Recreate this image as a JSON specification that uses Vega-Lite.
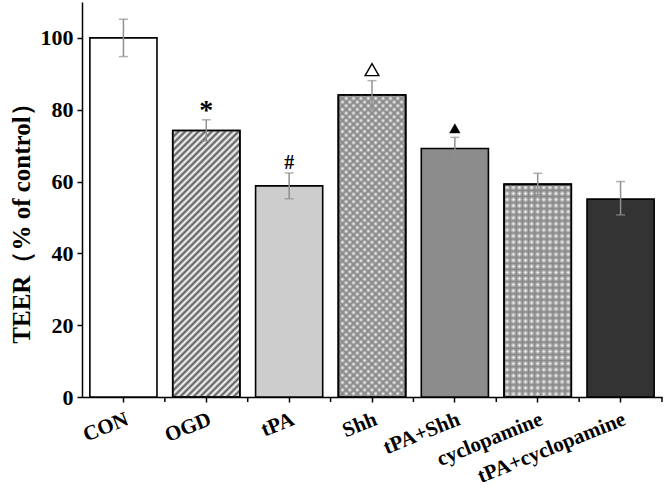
{
"$schema":"https://vega.github.io/schema/vega-lite/v6.json",
"width":580,"height":395,
"autosize":{"type":"none"},
"padding":{"left":82,"top":2,"right":2,"bottom":92},
"config":{"view":{"stroke":null},"font":"Liberation Serif"},
"data":{"values":[
{"group":"CON","value":100,"lower":94.8,"upper":105.2,"sig":""},
{"group":"OGD","value":74.2,"lower":71.3,"upper":77.2,"sig":"*"},
{"group":"tPA","value":58.8,"lower":55.2,"upper":62.4,"sig":"#"},
{"group":"Shh","value":84.1,"lower":80,"upper":88.1,"sig":"△"},
{"group":"tPA+Shh","value":69.2,"lower":66.4,"upper":72.3,"sig":"▲"},
{"group":"cyclopamine","value":59.2,"lower":56.3,"upper":62.3,"sig":""},
{"group":"tPA+cyclopamine","value":55.1,"lower":50.7,"upper":60,"sig":""}
]},
"encoding":{"x":{"field":"group","type":"nominal","sort":null,"scale":{"paddingInner":0,"paddingOuter":0},
"axis":{"title":null,"labelAngle":-22,"labelAlign":"right","labelBaseline":"top","labelFont":"Liberation Serif","labelFontWeight":"bold","labelFontSize":21,"labelColor":"black","labelPadding":6,"labelLimit":300,"domainColor":"black","domainWidth":1.5,"tickColor":"black","tickWidth":1.5,"tickSize":5}}},
"layer":[
{"mark":{"type":"bar","width":{"band":0.81},"stroke":"black","strokeWidth":1.6},
"encoding":{"y":{"field":"value","type":"quantitative","scale":{"domain":[0,110],"nice":false},
"axis":{"title":"TEER（% of control）","titleFont":"Liberation Serif","titleFontWeight":"bold","titleFontSize":25,"titleColor":"black","titlePadding":6,"titleY":215,"values":[0,10,20,30,40,50,60,70,80,90,100],"labelExpr":"datum.value % 20 === 0 ? datum.label : ''","labelFont":"Liberation Serif","labelFontSize":22,"labelFontWeight":"bold","labelColor":"black","labelPadding":4,"domainColor":"black","domainWidth":1.5,"tickColor":"black","tickWidth":1.5,"tickSize":{"condition":{"test":"datum.value % 20 === 0","value":5},"value":3},"grid":false}},
"fill":{"field":"group","type":"nominal","scale":{"domain":["CON","OGD","tPA","Shh","tPA+Shh","cyclopamine","tPA+cyclopamine"],"range":["#ffffff","#ffffff","#cdcdcd","#ffffff","#8c8c8c","#ffffff","#333333"]},"legend":null}}},
{"transform":[{"filter":"datum.group === 'OGD'"}],
"mark":{"type":"bar","width":{"band":0.81},"stroke":"black","strokeWidth":1.6,"fill":{"gradient":"linear","x1":0,"y1":0,"x2":0.2966,"y2":1.1776,"stops":[
{"offset":0,"color":"#555"},{"offset":0.01,"color":"#5550"},{"offset":0.02,"color":"#555"},{"offset":0.03,"color":"#5550"},{"offset":0.04,"color":"#555"},{"offset":0.05,"color":"#5550"},{"offset":0.06,"color":"#555"},{"offset":0.07,"color":"#5550"},{"offset":0.08,"color":"#555"},{"offset":0.09,"color":"#5550"},
{"offset":0.1,"color":"#555"},{"offset":0.11,"color":"#5550"},{"offset":0.12,"color":"#555"},{"offset":0.13,"color":"#5550"},{"offset":0.14,"color":"#555"},{"offset":0.15,"color":"#5550"},{"offset":0.16,"color":"#555"},{"offset":0.17,"color":"#5550"},{"offset":0.18,"color":"#555"},{"offset":0.19,"color":"#5550"},
{"offset":0.2,"color":"#555"},{"offset":0.21,"color":"#5550"},{"offset":0.22,"color":"#555"},{"offset":0.23,"color":"#5550"},{"offset":0.24,"color":"#555"},{"offset":0.25,"color":"#5550"},{"offset":0.26,"color":"#555"},{"offset":0.27,"color":"#5550"},{"offset":0.28,"color":"#555"},{"offset":0.29,"color":"#5550"},
{"offset":0.3,"color":"#555"},{"offset":0.31,"color":"#5550"},{"offset":0.32,"color":"#555"},{"offset":0.33,"color":"#5550"},{"offset":0.34,"color":"#555"},{"offset":0.35,"color":"#5550"},{"offset":0.36,"color":"#555"},{"offset":0.37,"color":"#5550"},{"offset":0.38,"color":"#555"},{"offset":0.39,"color":"#5550"},
{"offset":0.4,"color":"#555"},{"offset":0.41,"color":"#5550"},{"offset":0.42,"color":"#555"},{"offset":0.43,"color":"#5550"},{"offset":0.44,"color":"#555"},{"offset":0.45,"color":"#5550"},{"offset":0.46,"color":"#555"},{"offset":0.47,"color":"#5550"},{"offset":0.48,"color":"#555"},{"offset":0.49,"color":"#5550"},
{"offset":0.5,"color":"#555"},{"offset":0.51,"color":"#5550"},{"offset":0.52,"color":"#555"},{"offset":0.53,"color":"#5550"},{"offset":0.54,"color":"#555"},{"offset":0.55,"color":"#5550"},{"offset":0.56,"color":"#555"},{"offset":0.57,"color":"#5550"},{"offset":0.58,"color":"#555"},{"offset":0.59,"color":"#5550"},
{"offset":0.6,"color":"#555"},{"offset":0.61,"color":"#5550"},{"offset":0.62,"color":"#555"},{"offset":0.63,"color":"#5550"},{"offset":0.64,"color":"#555"},{"offset":0.65,"color":"#5550"},{"offset":0.66,"color":"#555"},{"offset":0.67,"color":"#5550"},{"offset":0.68,"color":"#555"},{"offset":0.69,"color":"#5550"},
{"offset":0.7,"color":"#555"},{"offset":0.71,"color":"#5550"},{"offset":0.72,"color":"#555"},{"offset":0.73,"color":"#5550"},{"offset":0.74,"color":"#555"},{"offset":0.75,"color":"#5550"},{"offset":0.76,"color":"#555"},{"offset":0.77,"color":"#5550"},{"offset":0.78,"color":"#555"},{"offset":0.79,"color":"#5550"},
{"offset":0.8,"color":"#555"},{"offset":0.81,"color":"#5550"},{"offset":0.82,"color":"#555"},{"offset":0.83,"color":"#5550"},{"offset":0.84,"color":"#555"},{"offset":0.85,"color":"#5550"},{"offset":0.86,"color":"#555"},{"offset":0.87,"color":"#5550"},{"offset":0.88,"color":"#555"},{"offset":0.89,"color":"#5550"},
{"offset":0.9,"color":"#555"},{"offset":0.91,"color":"#5550"},{"offset":0.92,"color":"#555"},{"offset":0.93,"color":"#5550"},{"offset":0.94,"color":"#555"},{"offset":0.95,"color":"#5550"},{"offset":0.96,"color":"#555"},{"offset":0.97,"color":"#5550"},{"offset":0.98,"color":"#555"},{"offset":0.99,"color":"#5550"},{"offset":1,"color":"#555"}]}},
"encoding":{"y":{"field":"value","type":"quantitative"}}},
{"transform":[{"filter":"datum.group === 'Shh'"}],
"mark":{"type":"bar","width":{"band":0.81},"stroke":"black","strokeWidth":1.6,"fill":{"gradient":"linear","x1":0,"y1":0,"x2":0.2588,"y2":1.1647,"stops":[
{"offset":0,"color":"#888"},{"offset":0.01,"color":"#8880"},{"offset":0.02,"color":"#888"},{"offset":0.03,"color":"#8880"},{"offset":0.04,"color":"#888"},{"offset":0.05,"color":"#8880"},{"offset":0.06,"color":"#888"},{"offset":0.07,"color":"#8880"},{"offset":0.08,"color":"#888"},{"offset":0.09,"color":"#8880"},
{"offset":0.1,"color":"#888"},{"offset":0.11,"color":"#8880"},{"offset":0.12,"color":"#888"},{"offset":0.13,"color":"#8880"},{"offset":0.14,"color":"#888"},{"offset":0.15,"color":"#8880"},{"offset":0.16,"color":"#888"},{"offset":0.17,"color":"#8880"},{"offset":0.18,"color":"#888"},{"offset":0.19,"color":"#8880"},
{"offset":0.2,"color":"#888"},{"offset":0.21,"color":"#8880"},{"offset":0.22,"color":"#888"},{"offset":0.23,"color":"#8880"},{"offset":0.24,"color":"#888"},{"offset":0.25,"color":"#8880"},{"offset":0.26,"color":"#888"},{"offset":0.27,"color":"#8880"},{"offset":0.28,"color":"#888"},{"offset":0.29,"color":"#8880"},
{"offset":0.3,"color":"#888"},{"offset":0.31,"color":"#8880"},{"offset":0.32,"color":"#888"},{"offset":0.33,"color":"#8880"},{"offset":0.34,"color":"#888"},{"offset":0.35,"color":"#8880"},{"offset":0.36,"color":"#888"},{"offset":0.37,"color":"#8880"},{"offset":0.38,"color":"#888"},{"offset":0.39,"color":"#8880"},
{"offset":0.4,"color":"#888"},{"offset":0.41,"color":"#8880"},{"offset":0.42,"color":"#888"},{"offset":0.43,"color":"#8880"},{"offset":0.44,"color":"#888"},{"offset":0.45,"color":"#8880"},{"offset":0.46,"color":"#888"},{"offset":0.47,"color":"#8880"},{"offset":0.48,"color":"#888"},{"offset":0.49,"color":"#8880"},
{"offset":0.5,"color":"#888"},{"offset":0.51,"color":"#8880"},{"offset":0.52,"color":"#888"},{"offset":0.53,"color":"#8880"},{"offset":0.54,"color":"#888"},{"offset":0.55,"color":"#8880"},{"offset":0.56,"color":"#888"},{"offset":0.57,"color":"#8880"},{"offset":0.58,"color":"#888"},{"offset":0.59,"color":"#8880"},
{"offset":0.6,"color":"#888"},{"offset":0.61,"color":"#8880"},{"offset":0.62,"color":"#888"},{"offset":0.63,"color":"#8880"},{"offset":0.64,"color":"#888"},{"offset":0.65,"color":"#8880"},{"offset":0.66,"color":"#888"},{"offset":0.67,"color":"#8880"},{"offset":0.68,"color":"#888"},{"offset":0.69,"color":"#8880"},
{"offset":0.7,"color":"#888"},{"offset":0.71,"color":"#8880"},{"offset":0.72,"color":"#888"},{"offset":0.73,"color":"#8880"},{"offset":0.74,"color":"#888"},{"offset":0.75,"color":"#8880"},{"offset":0.76,"color":"#888"},{"offset":0.77,"color":"#8880"},{"offset":0.78,"color":"#888"},{"offset":0.79,"color":"#8880"},
{"offset":0.8,"color":"#888"},{"offset":0.81,"color":"#8880"},{"offset":0.82,"color":"#888"},{"offset":0.83,"color":"#8880"},{"offset":0.84,"color":"#888"},{"offset":0.85,"color":"#8880"},{"offset":0.86,"color":"#888"},{"offset":0.87,"color":"#8880"},{"offset":0.88,"color":"#888"},{"offset":0.89,"color":"#8880"},
{"offset":0.9,"color":"#888"},{"offset":0.91,"color":"#8880"},{"offset":0.92,"color":"#888"},{"offset":0.93,"color":"#8880"},{"offset":0.94,"color":"#888"},{"offset":0.95,"color":"#8880"},{"offset":0.96,"color":"#888"},{"offset":0.97,"color":"#8880"},{"offset":0.98,"color":"#888"},{"offset":0.99,"color":"#8880"},{"offset":1,"color":"#888"}]}},
"encoding":{"y":{"field":"value","type":"quantitative"}}},
{"transform":[{"filter":"datum.group === 'Shh'"}],
"mark":{"type":"bar","width":{"band":0.81},"stroke":"black","strokeWidth":1.6,"fill":{"gradient":"linear","x1":1,"y1":0,"x2":0.7412,"y2":1.1647,"stops":[
{"offset":0,"color":"#888"},{"offset":0.01,"color":"#8880"},{"offset":0.02,"color":"#888"},{"offset":0.03,"color":"#8880"},{"offset":0.04,"color":"#888"},{"offset":0.05,"color":"#8880"},{"offset":0.06,"color":"#888"},{"offset":0.07,"color":"#8880"},{"offset":0.08,"color":"#888"},{"offset":0.09,"color":"#8880"},
{"offset":0.1,"color":"#888"},{"offset":0.11,"color":"#8880"},{"offset":0.12,"color":"#888"},{"offset":0.13,"color":"#8880"},{"offset":0.14,"color":"#888"},{"offset":0.15,"color":"#8880"},{"offset":0.16,"color":"#888"},{"offset":0.17,"color":"#8880"},{"offset":0.18,"color":"#888"},{"offset":0.19,"color":"#8880"},
{"offset":0.2,"color":"#888"},{"offset":0.21,"color":"#8880"},{"offset":0.22,"color":"#888"},{"offset":0.23,"color":"#8880"},{"offset":0.24,"color":"#888"},{"offset":0.25,"color":"#8880"},{"offset":0.26,"color":"#888"},{"offset":0.27,"color":"#8880"},{"offset":0.28,"color":"#888"},{"offset":0.29,"color":"#8880"},
{"offset":0.3,"color":"#888"},{"offset":0.31,"color":"#8880"},{"offset":0.32,"color":"#888"},{"offset":0.33,"color":"#8880"},{"offset":0.34,"color":"#888"},{"offset":0.35,"color":"#8880"},{"offset":0.36,"color":"#888"},{"offset":0.37,"color":"#8880"},{"offset":0.38,"color":"#888"},{"offset":0.39,"color":"#8880"},
{"offset":0.4,"color":"#888"},{"offset":0.41,"color":"#8880"},{"offset":0.42,"color":"#888"},{"offset":0.43,"color":"#8880"},{"offset":0.44,"color":"#888"},{"offset":0.45,"color":"#8880"},{"offset":0.46,"color":"#888"},{"offset":0.47,"color":"#8880"},{"offset":0.48,"color":"#888"},{"offset":0.49,"color":"#8880"},
{"offset":0.5,"color":"#888"},{"offset":0.51,"color":"#8880"},{"offset":0.52,"color":"#888"},{"offset":0.53,"color":"#8880"},{"offset":0.54,"color":"#888"},{"offset":0.55,"color":"#8880"},{"offset":0.56,"color":"#888"},{"offset":0.57,"color":"#8880"},{"offset":0.58,"color":"#888"},{"offset":0.59,"color":"#8880"},
{"offset":0.6,"color":"#888"},{"offset":0.61,"color":"#8880"},{"offset":0.62,"color":"#888"},{"offset":0.63,"color":"#8880"},{"offset":0.64,"color":"#888"},{"offset":0.65,"color":"#8880"},{"offset":0.66,"color":"#888"},{"offset":0.67,"color":"#8880"},{"offset":0.68,"color":"#888"},{"offset":0.69,"color":"#8880"},
{"offset":0.7,"color":"#888"},{"offset":0.71,"color":"#8880"},{"offset":0.72,"color":"#888"},{"offset":0.73,"color":"#8880"},{"offset":0.74,"color":"#888"},{"offset":0.75,"color":"#8880"},{"offset":0.76,"color":"#888"},{"offset":0.77,"color":"#8880"},{"offset":0.78,"color":"#888"},{"offset":0.79,"color":"#8880"},
{"offset":0.8,"color":"#888"},{"offset":0.81,"color":"#8880"},{"offset":0.82,"color":"#888"},{"offset":0.83,"color":"#8880"},{"offset":0.84,"color":"#888"},{"offset":0.85,"color":"#8880"},{"offset":0.86,"color":"#888"},{"offset":0.87,"color":"#8880"},{"offset":0.88,"color":"#888"},{"offset":0.89,"color":"#8880"},
{"offset":0.9,"color":"#888"},{"offset":0.91,"color":"#8880"},{"offset":0.92,"color":"#888"},{"offset":0.93,"color":"#8880"},{"offset":0.94,"color":"#888"},{"offset":0.95,"color":"#8880"},{"offset":0.96,"color":"#888"},{"offset":0.97,"color":"#8880"},{"offset":0.98,"color":"#888"},{"offset":0.99,"color":"#8880"},{"offset":1,"color":"#888"}]}},
"encoding":{"y":{"field":"value","type":"quantitative"}}},
{"transform":[{"filter":"datum.group === 'cyclopamine'"}],
"mark":{"type":"bar","width":{"band":0.81},"stroke":"black","strokeWidth":1.6,"fill":{"gradient":"linear","x1":0,"y1":0,"x2":0,"y2":1,"stops":[
{"offset":0,"color":"#888"},{"offset":0.0143,"color":"#8880"},{"offset":0.0286,"color":"#888"},{"offset":0.0429,"color":"#8880"},{"offset":0.0571,"color":"#888"},{"offset":0.0714,"color":"#8880"},{"offset":0.0857,"color":"#888"},{"offset":0.1,"color":"#8880"},{"offset":0.1143,"color":"#888"},{"offset":0.1286,"color":"#8880"},
{"offset":0.1429,"color":"#888"},{"offset":0.1571,"color":"#8880"},{"offset":0.1714,"color":"#888"},{"offset":0.1857,"color":"#8880"},{"offset":0.2,"color":"#888"},{"offset":0.2143,"color":"#8880"},{"offset":0.2286,"color":"#888"},{"offset":0.2429,"color":"#8880"},{"offset":0.2571,"color":"#888"},{"offset":0.2714,"color":"#8880"},
{"offset":0.2857,"color":"#888"},{"offset":0.3,"color":"#8880"},{"offset":0.3143,"color":"#888"},{"offset":0.3286,"color":"#8880"},{"offset":0.3429,"color":"#888"},{"offset":0.3571,"color":"#8880"},{"offset":0.3714,"color":"#888"},{"offset":0.3857,"color":"#8880"},{"offset":0.4,"color":"#888"},{"offset":0.4143,"color":"#8880"},
{"offset":0.4286,"color":"#888"},{"offset":0.4429,"color":"#8880"},{"offset":0.4571,"color":"#888"},{"offset":0.4714,"color":"#8880"},{"offset":0.4857,"color":"#888"},{"offset":0.5,"color":"#8880"},{"offset":0.5143,"color":"#888"},{"offset":0.5286,"color":"#8880"},{"offset":0.5429,"color":"#888"},{"offset":0.5571,"color":"#8880"},
{"offset":0.5714,"color":"#888"},{"offset":0.5857,"color":"#8880"},{"offset":0.6,"color":"#888"},{"offset":0.6143,"color":"#8880"},{"offset":0.6286,"color":"#888"},{"offset":0.6429,"color":"#8880"},{"offset":0.6571,"color":"#888"},{"offset":0.6714,"color":"#8880"},{"offset":0.6857,"color":"#888"},{"offset":0.7,"color":"#8880"},
{"offset":0.7143,"color":"#888"},{"offset":0.7286,"color":"#8880"},{"offset":0.7429,"color":"#888"},{"offset":0.7571,"color":"#8880"},{"offset":0.7714,"color":"#888"},{"offset":0.7857,"color":"#8880"},{"offset":0.8,"color":"#888"},{"offset":0.8143,"color":"#8880"},{"offset":0.8286,"color":"#888"},{"offset":0.8429,"color":"#8880"},
{"offset":0.8571,"color":"#888"},{"offset":0.8714,"color":"#8880"},{"offset":0.8857,"color":"#888"},{"offset":0.9,"color":"#8880"},{"offset":0.9143,"color":"#888"},{"offset":0.9286,"color":"#8880"},{"offset":0.9429,"color":"#888"},{"offset":0.9571,"color":"#8880"},{"offset":0.9714,"color":"#888"},{"offset":0.9857,"color":"#8880"},{"offset":1,"color":"#888"}]}},
"encoding":{"y":{"field":"value","type":"quantitative"}}},
{"transform":[{"filter":"datum.group === 'cyclopamine'"}],
"mark":{"type":"bar","width":{"band":0.81},"stroke":"black","strokeWidth":1.6,"fill":{"gradient":"linear","x1":0,"y1":0,"x2":1,"y2":0,"stops":[
{"offset":0,"color":"#888"},{"offset":0.0455,"color":"#8880"},{"offset":0.0909,"color":"#888"},{"offset":0.1364,"color":"#8880"},{"offset":0.1818,"color":"#888"},{"offset":0.2273,"color":"#8880"},{"offset":0.2727,"color":"#888"},{"offset":0.3182,"color":"#8880"},{"offset":0.3636,"color":"#888"},{"offset":0.4091,"color":"#8880"},{"offset":0.4545,"color":"#888"},{"offset":0.5,"color":"#8880"},
{"offset":0.5455,"color":"#888"},{"offset":0.5909,"color":"#8880"},{"offset":0.6364,"color":"#888"},{"offset":0.6818,"color":"#8880"},{"offset":0.7273,"color":"#888"},{"offset":0.7727,"color":"#8880"},{"offset":0.8182,"color":"#888"},{"offset":0.8636,"color":"#8880"},{"offset":0.9091,"color":"#888"},{"offset":0.9545,"color":"#8880"},{"offset":1,"color":"#888"}]}},
"encoding":{"y":{"field":"value","type":"quantitative"}}},
{"mark":{"type":"rule","color":"black","strokeWidth":1.5},
"encoding":{"x":{"field":"group","type":"nominal","sort":null,"bandPosition":1},"y":{"datum":0,"type":"quantitative"},"y2":{"datum":-1.4}}},
{"mark":{"type":"rule","color":"#909090","strokeWidth":1.5},
"encoding":{"y":{"field":"lower","type":"quantitative"},"y2":{"field":"upper"}}},
{"mark":{"type":"tick","color":"#909090","thickness":1.5,"size":9,"orient":"horizontal"},
"encoding":{"y":{"field":"upper","type":"quantitative"}}},
{"mark":{"type":"tick","color":"#909090","thickness":1.5,"size":9,"orient":"horizontal"},
"encoding":{"y":{"field":"lower","type":"quantitative"}}},
{"transform":[{"filter":"datum.sig === '*'"}],
"mark":{"type":"text","font":"Liberation Serif","fontWeight":"bold","fontSize":28,"baseline":"alphabetic","dy":-1,"color":"black"},
"encoding":{"y":{"field":"upper","type":"quantitative"},"text":{"field":"sig"}}},
{"transform":[{"filter":"datum.sig === '#'"}],
"mark":{"type":"text","font":"Liberation Serif","fontWeight":"bold","fontSize":20,"baseline":"alphabetic","dy":-4,"color":"black"},
"encoding":{"y":{"field":"upper","type":"quantitative"},"text":{"field":"sig"}}},
{"transform":[{"filter":"datum.sig === '△'"}],
"mark":{"type":"point","shape":"triangle-up","filled":false,"stroke":"black","strokeWidth":1.4,"size":190,"yOffset":-11,"opacity":1},
"encoding":{"y":{"field":"upper","type":"quantitative"}}},
{"transform":[{"filter":"datum.sig === '▲'"}],
"mark":{"type":"point","shape":"triangle-up","filled":true,"fill":"black","stroke":"black","strokeWidth":0.5,"size":110,"yOffset":-9,"opacity":1},
"encoding":{"y":{"field":"upper","type":"quantitative"}}}
]
}
